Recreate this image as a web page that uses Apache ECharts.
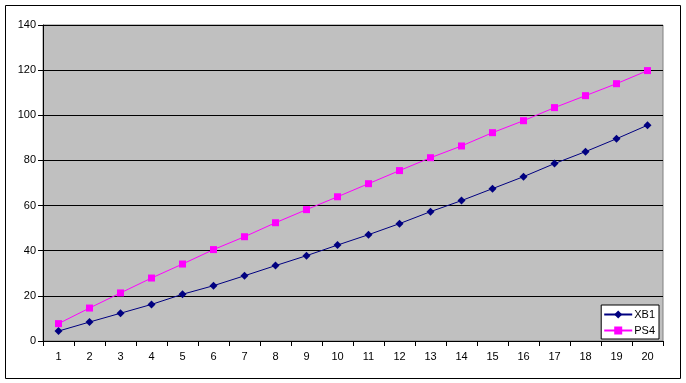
<!DOCTYPE html>
<html><head><meta charset="utf-8">
<script src="https://cdn.jsdelivr.net/npm/echarts@6/dist/echarts.min.js"></script>
<style>html,body{margin:0;padding:0;background:#fff}#c{width:686px;height:383px}</style>
</head><body><div id="c"></div>
<script>
const categories = ['1','2','3','4','5','6','7','8','9','10','11','12','13','14','15','16','17','18','19','20'];
const xb1 = [4.4, 8.4, 12.3, 16.2, 20.7, 24.5, 28.9, 33.4, 37.8, 42.5, 47.1, 52.0, 57.3, 62.2, 67.5, 72.8, 78.6, 83.9, 89.6, 95.6];
const ps4 = [7.7, 14.6, 21.3, 27.9, 34.1, 40.5, 46.2, 52.4, 58.2, 63.9, 69.7, 75.5, 81.2, 86.4, 92.3, 97.6, 103.4, 108.7, 114.0, 119.8];
const yTicks = [0, 20, 40, 60, 80, 100, 120, 140];

const chart = echarts.init(document.getElementById('c'), null, {renderer: 'canvas'});
const font = 'Liberation Sans, Arial, sans-serif';
chart.setOption({
  animation: false,
  textStyle: {fontFamily: font},
  graphic: [{type: 'rect', shape: {x: 5.5, y: 5.5, width: 675, height: 373}, style: {fill: 'none', stroke: '#000', lineWidth: 1}, z: 100}],
  grid: {left: 43, right: 23, top: 25, bottom: 42, show: true, backgroundColor: '#c0c0c0', borderColor: '#808080', borderWidth: 1},
  legend: {
    orient: 'vertical', right: 27, bottom: 44, backgroundColor: '#fff', borderColor: '#000', borderWidth: 1,
    padding: [4, 4, 3, 2], itemGap: 5, itemWidth: 28, itemHeight: 10,
    textStyle: {fontFamily: font, fontSize: 11, color: '#000', padding: [0, 0, 0, -3]},
    data: ['XB1', 'PS4']
  },
  xAxis: {
    type: 'category', data: categories, boundaryGap: true,
    axisLine: {lineStyle: {color: '#000', width: 1}},
    axisTick: {show: true, length: 5, lineStyle: {color: '#000'}},
    axisLabel: {color: '#000', fontSize: 11, fontFamily: font, margin: 10, interval: 0}
  },
  yAxis: {
    type: 'value', min: yTicks[0], max: yTicks[yTicks.length - 1], interval: 20,
    axisLine: {show: true, lineStyle: {color: '#000', width: 1}},
    axisTick: {show: true, length: 5, lineStyle: {color: '#000'}},
    axisLabel: {color: '#000', fontSize: 11, fontFamily: font, margin: 7},
    splitLine: {show: true, lineStyle: {color: '#000', width: 1}}
  },
  series: [
    {name: 'XB1', type: 'line', data: xb1, symbol: 'diamond', symbolSize: 8, showAllSymbol: true,
     itemStyle: {color: '#000080'}, lineStyle: {color: '#000080', width: 1}},
    {name: 'PS4', type: 'line', data: ps4, symbol: 'rect', symbolSize: 7, showAllSymbol: true,
     itemStyle: {color: '#ff00ff'}, lineStyle: {color: '#ff00ff', width: 1}}
  ]
});
</script></body></html>
